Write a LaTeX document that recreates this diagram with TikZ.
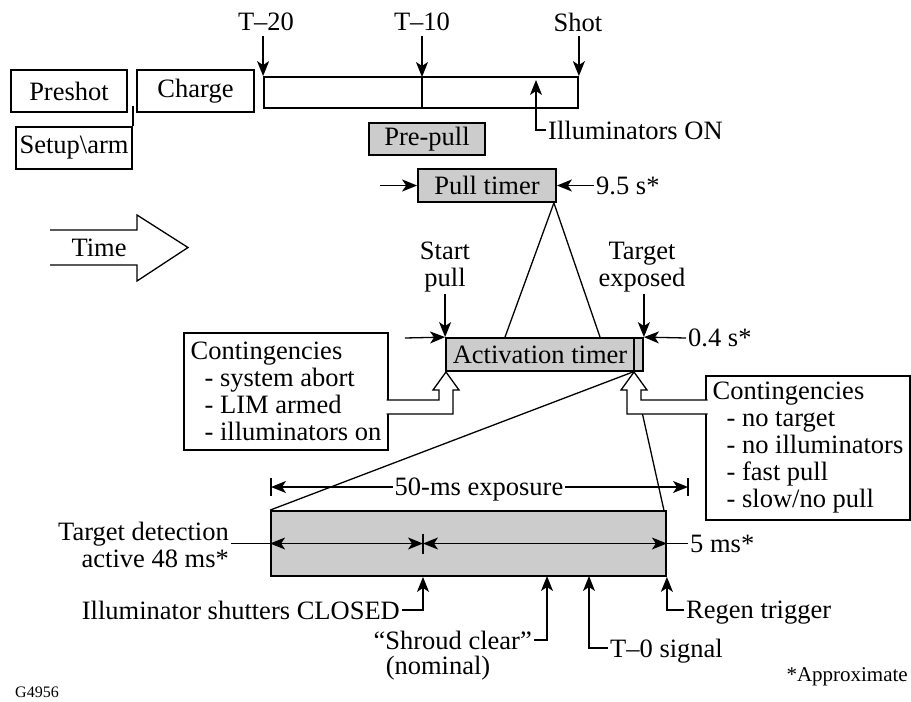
\documentclass[tikz,border=0pt]{standalone}
\usepackage{fontspec}
\setmainfont{Liberation Serif}
\usetikzlibrary{arrows.meta,calc}
\definecolor{boxgray}{RGB}{204,204,204}
\begin{document}
\begin{tikzpicture}[x=1pt,y=-1pt,
  every node/.style={font=\fontsize{26.5}{27}\selectfont, inner sep=2pt},
  box/.style={draw, line width=1.8pt, inner sep=0pt},
  gbox/.style={box, fill=boxgray},
  lbl/.style={text depth=0pt},
  ln/.style={line width=1.3pt},
  arr/.style={ln, -{Stealth[length=15pt,width=12pt,inset=4pt]}},
  dbl/.style={ln, {Stealth[length=15pt,width=12pt,inset=4pt]}-{Stealth[length=15pt,width=12pt,inset=4pt]}},
  hollow/.style={line width=1.3pt, fill=white, line join=miter}]

\useasboundingbox (0,0) rectangle (911,702);

% top row
\node[box, minimum width=116pt, minimum height=42pt] (preshot) at (69,91) {Preshot};
\node[box, minimum width=117pt, minimum height=42pt] (charge) at (195.5,91) {Charge};
\node[box, minimum width=116pt, minimum height=42pt] (setup) at (74,148) {Setup\textbackslash arm};
\draw[line width=1.5pt] (setup.north east) -- ++(0,-20);

\node[box, minimum width=314pt, minimum height=31pt] (tl) at (421,92.5) {};
\coordinate (divt) at (422,77);
\coordinate (divb) at (422,108);
\draw[line width=1.5pt] (divt) -- (divb);

\node[lbl] (t20) at (266,22) {T--20};
\node[lbl] (t10) at (422,22) {T--10};
\node[lbl] (shot) at (578,22) {Shot};
\draw[arr, shorten <=3pt] (t20.south -| tl.north west) -- (tl.north west);
\draw[arr, shorten <=3pt] (t10.south) -- (divt);
\draw[arr, shorten <=3pt] (shot.south -| tl.north east) -- (tl.north east);

\node[lbl, anchor=west] (ion) at (546,130) {Illuminators ON};
\coordinate (iont) at (536,80);
\draw[arr] (ion.west) -| (iont);

% pre-pull and pull timer
\node[gbox, minimum width=116pt, minimum height=32pt] (prepull) at (427,139) {Pre-pull};
\node[gbox, minimum width=138pt, minimum height=33pt] (pull) at (487,185.5) {Pull timer};
\coordinate (pullin) at (380,185.5);
\draw[arr] (pullin) -- (pull.west);
\node[lbl, anchor=west] (s95) at (594,185.5) {9.5 s*};
\draw[arr] (s95.west) -- (pull.east);

% time arrow
\draw[line width=1.3pt, line join=miter] (50,230) -- (137,230) -- (137,215) -- (188,247.5) -- (137,281) -- (137,265) -- (50,265);
\node (time) at (99,248) {Time};

% activation timer
\node[gbox, minimum width=188pt, minimum height=33pt] (act) at (540,354.5) {Activation timer};
\node[gbox, minimum width=9pt, minimum height=33pt] (actx) at (638.5,354.5) {};

\draw[ln] ($(act.north)+(-35,0)$) -- ($(pull.south east)+(-3,0)$) -- ($(act.north)+(60,0)$);

\node[align=center] (sp) at (445,267) {Start\\pull};
\draw[arr] (sp.south -| act.north west) -- (act.north west);
\node[align=center] (te) at (642,267) {Target\\exposed};
\draw[arr] (te.south -| actx.north east) -- (actx.north east);
\coordinate (actin) at (405,338);
\draw[arr] (actin) -- (act.north west);
\node[lbl, anchor=west] (s04) at (686,338) {0.4 s*};
\draw[arr] (s04.west) -- (actx.north east);

% contingencies
\node[box, minimum width=204pt, minimum height=117pt, align=left] (c1) at (286,391.5)
  {Contingencies\\\hspace*{14pt}- system abort\\\hspace*{14pt}- LIM armed\\\hspace*{14pt}- illuminators on};
\node[box, minimum width=204pt, minimum height=144pt, align=left] (c2) at (808,448)
  {Contingencies\\\hspace*{14pt}- no target\\\hspace*{14pt}- no illuminators\\\hspace*{14pt}- fast pull\\\hspace*{14pt}- slow/no pull};

% exposure box
\node[gbox, minimum width=395pt, minimum height=65pt] (exp) at (468.5,543.5) {};
\draw[ln] (exp.north west) -- (actx.south west) -- ($(exp.north east)+(-3,0)$);

% hollow arrows
\draw[hollow] (386.5,400) -- (439,400) -- (439,390) -- (433,390) -- (446,372) -- (459,390) -- (453,390) -- (453,414) -- (386.5,414);
\draw[hollow] (707.5,400) -- (641,400) -- (641,390) -- (647,390) -- (634,372) -- (621,390) -- (627,390) -- (627,414) -- (707.5,414);

% 50-ms exposure dimension
\node[lbl] (exptxt) at (479,487) {50-ms exposure};
\coordinate (dl) at (271,487);
\coordinate (dr) at (688,487);
\draw[arr] (exptxt.west) -- (dl);
\draw[arr] (exptxt.east) -- (dr);
\draw[ln] ($(dl)+(0,-9)$) -- ($(dl)+(0,9)$);
\draw[ln] ($(dr)+(0,-9)$) -- ($(dr)+(0,9)$);

% inside dimensions
\node[align=right, anchor=east] (td) at (231,545) {Target detection\\active 48 ms*};
\draw[ln] (td.east |- exp.west) -- (exp.west);
\coordinate (mid) at (423,543.5);
\draw[dbl] (exp.west) -- (mid);
\draw[dbl] (mid) -- (exp.east);
\draw[ln] ($(mid)+(0,-10)$) -- ($(mid)+(0,10)$);
\node[lbl, anchor=west] (ms5) at (688,543.5) {5 ms*};
\draw[ln] (exp.east) -- (ms5.west);

% events below
\node[lbl, anchor=east] (shut) at (402,610) {Illuminator shutters CLOSED};
\draw[arr] (shut.east) -| (mid |- exp.south);
\node[lbl, anchor=east] (shroud) at (534,640) {“Shroud clear”};
\node[lbl] (nom) at (438,665) {(nominal)};
\coordinate (scx) at (547,576);
\draw[arr] (shroud.east) -| (scx);
\node[lbl, anchor=west] (t0) at (608,648) {T--0 signal};
\coordinate (t0x) at (589,576);
\draw[arr] (t0.west) -| (t0x);
\node[lbl, anchor=west] (regen) at (684,610) {Regen trigger};
\draw[arr] (regen.west) -| (exp.south east);

\node[anchor=east, font=\fontsize{21}{23}\selectfont] (approx) at (910,677) {*Approximate};
\node[anchor=west, font=\fontsize{16}{18}\selectfont] (gid) at (13,692) {G4956};
\end{tikzpicture}
\end{document}
